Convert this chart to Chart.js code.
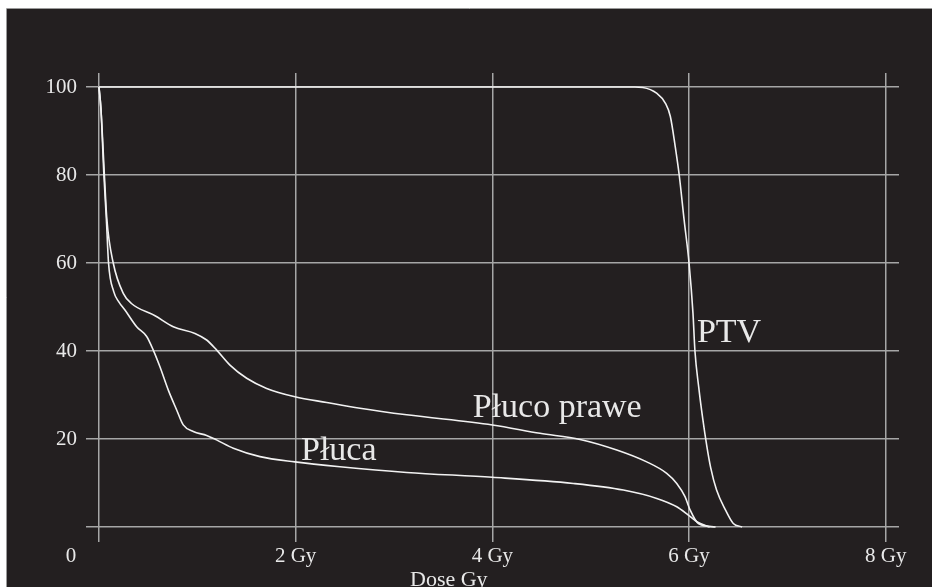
<!DOCTYPE html>
<html><head><meta charset="utf-8">
<script src="https://cdn.jsdelivr.net/npm/chart.js@4/dist/chart.umd.min.js"></script>
<style>html,body{margin:0;padding:0;background:#fff;overflow:hidden}#wrap{width:932px;height:587px;position:relative}canvas{display:block}</style>
</head><body><div id="wrap"><canvas id="c" width="932" height="587"></canvas></div>
<script>
// ---- data ----
const xTickValues = [0, 2, 4, 6, 8];
const xTickLabels = ["0", "2 Gy", "4 Gy", "6 Gy", "8 Gy"];
const yTickValues = [0, 20, 40, 60, 80, 100];
const yTickLabels = ["", "20", "40", "60", "80", "100"];
const xAxisTitle = "Dose Gy";

const ptvDose   = [0, 5.45, 5.53, 5.67, 5.76, 5.81, 5.86, 5.90, 5.95, 6.00, 6.04, 6.06, 6.10, 6.14, 6.18, 6.22, 6.28, 6.37, 6.45, 6.54];
const ptvVolume = [100, 100, 99.9, 98.6, 96.3, 93.3, 86.4, 80, 69.8, 60, 48.6, 40, 31.5, 24.5, 18.5, 13.5, 8.4, 3.9, 0.8, 0];

const prawyDose   = [0, 0.02, 0.055, 0.08, 0.145, 0.247, 0.33, 0.57, 0.756, 0.976, 1.095, 1.197, 1.332, 1.502, 1.705, 1.993, 2.316, 2.654, 3.129, 4.0, 4.485, 4.892, 5.265, 5.57, 5.773, 5.875, 5.959, 6.01, 6.095, 6.27];
const prawyVolume = [100, 95, 80, 70, 60, 53.1, 50.8, 48, 45.5, 44.0, 42.5, 40.2, 36.8, 33.8, 31.5, 29.6, 28.3, 27.0, 25.5, 23.2, 21.3, 19.9, 17.5, 14.8, 12.2, 9.9, 6.9, 3.9, 0.8, 0];

const plucaDose   = [0, 0.02, 0.05, 0.075, 0.097, 0.15, 0.2, 0.264, 0.383, 0.485, 0.552, 0.620, 0.705, 0.790, 0.857, 0.959, 1.095, 1.195, 1.366, 1.637, 1.993, 2.45, 3.129, 4.0, 4.824, 5.332, 5.672, 5.875, 5.993, 6.079, 6.21];
const plucaVolume = [100, 95, 80, 70, 60, 53.5, 51.2, 49.3, 45.5, 43.3, 40.2, 36.4, 31.1, 26.6, 23.2, 21.7, 20.8, 19.8, 17.9, 16.0, 14.8, 13.7, 12.4, 11.3, 9.9, 8.4, 6.5, 4.6, 2.7, 1.2, 0];

const seriesNames = ["PTV", "Płuco prawe", "Płuca"];

// ---- styling / layout ----
const BG = '#231f20', GRID = '#a6a6a6', LINE = '#f2f2f2', TEXT = '#e8e8e8';
const SERIF = '"Liberation Serif", "Times New Roman", serif';
const curveLabelAnchors = [ {x: 6.08, y: 42.0}, {x: 3.80, y: 25.0}, {x: 2.054, y: 15.2} ];

function pts(xs, ys){ return xs.map((x,i)=>({x:x, y:ys[i]})); }

const deco = {
  id: 'deco',
  beforeDraw(chart){
    const ctx = chart.ctx;
    ctx.save();
    ctx.fillStyle = '#ffffff';
    ctx.fillRect(0,0,chart.width,chart.height);
    ctx.fillStyle = BG;
    ctx.fillRect(7,9,chart.width-7,chart.height-9);
    ctx.strokeStyle = '#9a9a9a'; ctx.lineWidth = 1;
    ctx.beginPath(); ctx.moveTo(6.5, chart.height); ctx.lineTo(6.5, 8.5); ctx.lineTo(chart.width, 8.5); ctx.stroke();
    ctx.restore();
  },
  afterDraw(chart){
    const ctx = chart.ctx, xs = chart.scales.x, ys = chart.scales.y;
    ctx.save();
    ctx.fillStyle = TEXT;
    ctx.font = '21px ' + SERIF;
    ctx.textBaseline = 'alphabetic';
    ctx.textAlign = 'center';
    xTickValues.forEach((v,i)=>{
      const px = xs.getPixelForValue(v);
      ctx.fillText(xTickLabels[i], i === 0 ? px - 28 : px, 562);
    });
    ctx.font = '22px ' + SERIF;
    ctx.textAlign = 'left';
    ctx.fillText(xAxisTitle, 410, 586);
    ctx.font = '34px ' + SERIF;
    seriesNames.forEach((n,i)=>{
      const a = curveLabelAnchors[i];
      ctx.fillText(n, xs.getPixelForValue(a.x), ys.getPixelForValue(a.y));
    });
    ctx.restore();
  }
};

const ds = (name, xs, ys) => ({
  label: name, data: pts(xs, ys), borderColor: LINE, borderWidth: 1.6,
  pointRadius: 0, fill: false, cubicInterpolationMode: 'monotone'
});

new Chart(document.getElementById('c'), {
  type: 'line',
  data: { datasets: [ ds(seriesNames[0], ptvDose, ptvVolume), ds(seriesNames[1], prawyDose, prawyVolume), ds(seriesNames[2], plucaDose, plucaVolume) ] },
  options: {
    responsive: false, animation: false, devicePixelRatio: 1,
    layout: { padding: { left: 0, right: 33, top: 73, bottom: 0 } },
    plugins: { legend: { display: false }, tooltip: { enabled: false } },
    scales: {
      x: {
        type: 'linear', min: -0.132, max: 8.135,
        afterBuildTicks: s => { s.ticks = xTickValues.map(v => ({ value: v })); },
        afterFit: s => { s.height = 45.3; },
        grid: { color: GRID, lineWidth: 1.5, drawTicks: false },
        border: { display: false },
        ticks: { display: false }
      },
      y: {
        type: 'linear', min: -3.34, max: 103.18,
        afterBuildTicks: s => { s.ticks = yTickValues.map(v => ({ value: v })); },
        afterFit: s => { s.width = 86; },
        grid: { color: GRID, lineWidth: 1.5, drawTicks: false },
        border: { display: false },
        ticks: {
          padding: 9, color: TEXT, font: { family: SERIF, size: 21 },
          callback: (v) => { const i = yTickValues.indexOf(v); return i >= 0 ? yTickLabels[i] : ''; }
        }
      }
    }
  },
  plugins: [deco]
});
</script>
</body></html>
